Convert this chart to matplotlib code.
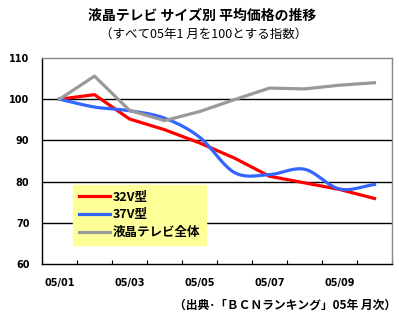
import matplotlib
matplotlib.use('Agg')
import matplotlib.pyplot as plt
import numpy as np

plt.rcParams['font.family'] = ['Noto Sans CJK JP', 'DejaVu Sans']

months = ['05/01', '05/02', '05/03', '05/04', '05/05', '05/06', '05/07', '05/08', '05/09', '05/10']
tv32 = [100, 101.1, 95.2, 92.6, 89.4, 85.7, 81.3, 79.7, 78.1, 75.9]
tv37 = [100, 98.1, 97.2, 95.4, 90.8, 82.2, 81.7, 83.0, 78.2, 79.3]
tv_all = [100, 105.6, 97.3, 94.8, 97.0, 99.9, 102.7, 102.5, 103.4, 104.0]
yticks = [60, 70, 80, 90, 100, 110]


def smooth(y, n=20):
    # catmull-rom for the drawn curve (Excel "smoothed line" look)
    y = np.asarray(y, float)
    p = np.concatenate([[2*y[0]-y[1]], y, [2*y[-1]-y[-2]]])
    xs, ys = [], []
    for i in range(len(y) - 1):
        p0, p1, p2, p3 = p[i], p[i+1], p[i+2], p[i+3]
        t = np.linspace(0, 1, n, endpoint=False)
        v = 0.5*((2*p1) + (-p0+p2)*t + (2*p0-5*p1+4*p2-p3)*t**2 + (-p0+3*p1-3*p2+p3)*t**3)
        xs.append(i + t)
        ys.append(v)
    xs.append([len(y)-1])
    ys.append([y[-1]])
    return np.concatenate(xs), np.concatenate(ys)


fig = plt.figure(figsize=(3.99, 3.21), dpi=100)
ax = fig.add_axes([42/399, 1-264/321, 350/399, 206/321])

x = np.arange(len(months))
ax.plot(x, tv32, color='#FF0000', lw=2.3, label='32V型', zorder=3)
sx, sy = smooth(tv37)
ax.plot(sx, sy, color='#3366FF', lw=2.3, label='37V型', zorder=3)
ax.plot(x, tv_all, color='#999999', lw=2.3, label='液晶テレビ全体', zorder=3)

ax.set_xlim(-0.5, len(months)-0.5)
ax.set_ylim(60, 110)
ax.set_yticks(yticks)
ax.set_yticklabels([str(v) for v in yticks], fontsize=7, fontweight='bold', family='DejaVu Sans')
ax.tick_params(axis='y', length=0, pad=9)
for v in yticks[1:-1]:
    ax.axhline(v, color='black', lw=1.0, zorder=1)

ax.set_xticks(np.arange(-0.5, len(months), 1))
ax.set_xticklabels([])
ax.tick_params(axis='x', which='major', direction='in', length=3, color='black')
ax.set_xticks(x[::2], minor=True)
ax.set_xticklabels(months[::2], minor=True, fontsize=7, fontweight='bold', family='DejaVu Sans')
ax.tick_params(axis='x', which='minor', length=0, pad=10)

ax.spines['left'].set_color('black')
ax.spines['bottom'].set_color('black')
ax.spines['top'].set_color('#888888')
ax.spines['right'].set_color('#888888')
for s in ax.spines.values():
    s.set_linewidth(1.0)

leg = ax.legend(loc='upper left', bbox_to_anchor=(31/350, (264-185)/206), frameon=True,
                fancybox=False, facecolor='#FFFF99', edgecolor='#FFFF99', framealpha=1,
                prop={'weight': 'bold', 'size': 9}, handlelength=2.5, borderpad=0.45,
                borderaxespad=0, labelspacing=0.38, handletextpad=0.25)
leg.set_zorder(4)
leg._legend_box.sep = 4

fig.text(202/399, 1-16/321, '液晶テレビ サイズ別 平均価格の推移', ha='center', va='center',
         fontsize=10, fontweight='bold')
fig.text(204/399, 1-34/321, '（すべて05年1 月を100とする指数）', ha='center', va='center',
         fontsize=9)
fig.text(396/399, 1-305/321, '（出典･「ＢＣＮランキング」05年 月次）', ha='right', va='center',
         fontsize=8.5, fontweight='bold')

fig.savefig('out.png', dpi=100)
